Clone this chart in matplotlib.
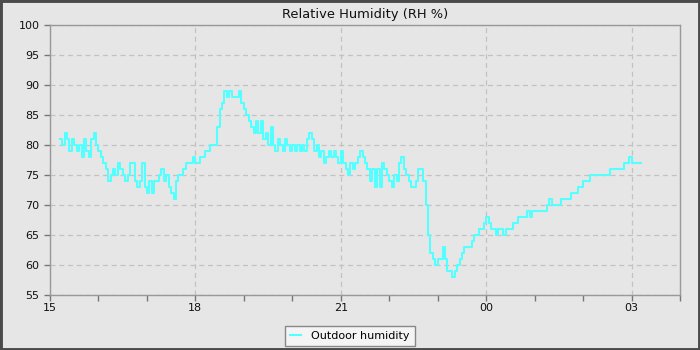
import matplotlib
matplotlib.use("Agg")
import matplotlib.pyplot as plt
import matplotlib.dates as mdates
from matplotlib.patches import Rectangle
import pandas as pd

# ---- data ----
start_time = "2024-01-01 15:12"
interval = "3min"
humidity = [
    81, 80, 82, 81, 79, 81, 80, 79, 80, 78, 81, 79, 78, 81, 82, 80, 79, 78, 77, 76,  # 15:12
    74, 75, 76, 75, 77, 76, 75, 74, 75, 77, 77, 74, 73, 74, 77, 73, 72, 74, 72, 74,  # 16:12
    74, 75, 76, 74, 75, 73, 72, 71, 74, 75, 75, 76, 77, 77, 77, 78, 77, 77, 78, 78,  # 17:12
    79, 79, 80, 80, 80, 83, 86, 87, 89, 88, 89, 88, 88, 88, 89, 87, 86, 85, 84, 83,  # 18:12
    82, 84, 82, 84, 81, 82, 80, 83, 80, 79, 81, 80, 79, 81, 80, 79, 80, 79, 80, 79,  # 19:12
    80, 79, 81, 82, 81, 79, 80, 78, 79, 77, 78, 79, 78, 79, 78, 77, 79, 77, 76, 75,  # 20:12
    77, 76, 77, 78, 79, 78, 77, 76, 74, 76, 73, 76, 73, 77, 76, 75, 74, 73, 75, 74,  # 21:12
    77, 78, 76, 75, 74, 73, 73, 74, 76, 76, 74, 70, 65, 62, 61, 60, 61, 61, 63, 61,  # 22:12
    59, 59, 58, 59, 60, 61, 62, 63, 63, 63, 64, 65, 65, 66, 66, 67, 68, 67, 66, 66,  # 23:12
    65, 66, 66, 65, 66, 66, 66, 67, 67, 68, 68, 68, 68, 69, 68, 69, 69, 69, 69, 69,  # 00:12
    69, 70, 71, 70, 70, 70, 70, 71, 71, 71, 71, 72, 72, 72, 73, 73, 74, 74, 74, 75,  # 01:12
    75, 75, 75, 75, 75, 75, 75, 76, 76, 76, 76, 76, 76, 77, 77, 78, 77, 77, 77, 77,  # 02:12
    77,                                                                              # 03:12
]
x_start = "2024-01-01 15:00"
x_end = "2024-01-02 04:00"
y_ticks = [55, 60, 65, 70, 75, 80, 85, 90, 95, 100]
title = "Relative Humidity (RH %)"
series_label = "Outdoor humidity"

times = pd.date_range(start=start_time, periods=len(humidity), freq=interval)

# ---- style ----
BG = "#e6e6e6"
GRID = "#c2c2c2"
SPINE = "#999999"
LINE = "#55ffff"

fig = plt.figure(figsize=(7, 3.5), dpi=100, facecolor=BG)
ax = fig.add_axes([50/700, 1 - 295/350, 630/700, 270/350])
ax.set_facecolor(BG)

ax.plot(times, humidity, drawstyle="steps-post", color=LINE, lw=1.5,
        label=series_label)

ax.set_xlim(pd.Timestamp(x_start), pd.Timestamp(x_end))
ax.set_ylim(55, 100)
ax.set_yticks(y_ticks)

ax.xaxis.set_major_locator(mdates.HourLocator(byhour=range(0, 24, 3)))
ax.xaxis.set_major_formatter(mdates.DateFormatter("%H"))
ax.xaxis.set_minor_locator(mdates.HourLocator())

ax.grid(True, which="major", color=GRID, linestyle=(0, (4, 3)), linewidth=0.9)
for s in ax.spines.values():
    s.set_color(SPINE)
    s.set_linewidth(1.0)
ax.tick_params(axis="both", which="both", direction="out", length=4, width=1,
               color="#777777", labelsize=8, labelcolor="#111111")
ax.tick_params(axis="x", pad=2)

ax.set_title(title, fontsize=9.4, color="#111111", pad=5)

leg = fig.legend(loc="lower center", bbox_to_anchor=(350/700, 4/350), ncol=1,
                 fontsize=8, frameon=True, fancybox=False, handlelength=1.0,
                 handletextpad=0.9, borderpad=0.45, borderaxespad=0.0)
leg.get_frame().set_facecolor("#f4f4f4")
leg.get_frame().set_edgecolor("#888888")
leg.get_frame().set_linewidth(1.0)
leg.get_frame().set_alpha(1)

fig.patches.append(Rectangle((0, 0), 1, 1, transform=fig.transFigure, fill=False,
                             edgecolor="#4a4a4a", linewidth=3.5, zorder=10))

fig.savefig("out.png", dpi=100, facecolor=BG)
